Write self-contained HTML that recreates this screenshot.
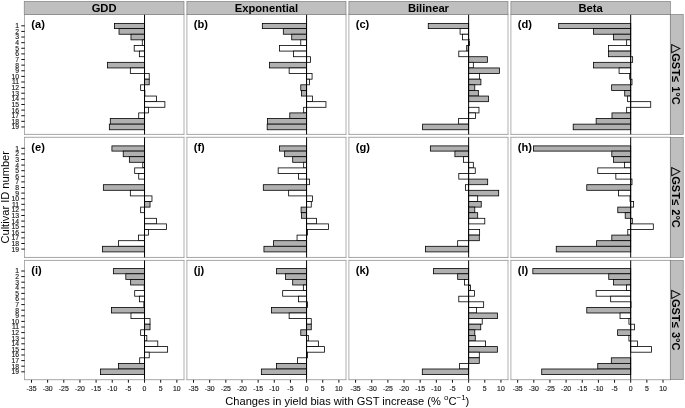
<!DOCTYPE html>
<html lang="en"><head><meta charset="utf-8"><title>Changes in yield bias with GST increase</title>
<style>html,body{margin:0;padding:0;background:#fff}svg{display:block}text{font-family:"Liberation Sans","DejaVu Sans",sans-serif;fill:#000}.h{font-weight:bold;font-size:11.2px;text-anchor:middle}.l{font-weight:bold;font-size:11.1px}.t{font-size:6.9px;fill:#1a1a1a;stroke:#1a1a1a;stroke-width:0.15px}.yt{text-anchor:end;font-size:6.8px}.xt{text-anchor:middle}.ax{font-size:11.1px;text-anchor:middle}.s{font-weight:bold;font-size:11px;text-anchor:middle;word-spacing:1.3px}.tri{font-weight:bold;font-size:12px;font-family:"DejaVu Sans",sans-serif;stroke:#000;stroke-width:0.25px}</style></head><body>
<svg width="685" height="408" viewBox="0 0 685 408">
<rect width="685" height="408" fill="#fff"/>
<g>
<rect x="24.5" y="14.3" width="159.5" height="120.1" fill="#fff"/>
<path d="M24.5 14.3V134.4M184 14.3V134.4" stroke="#b0b0b0" stroke-width="1" fill="none"/>
<path d="M24 14.3H184.5M24 134.4H184.5" stroke="#808080" stroke-width="0.7" fill="none"/>
<rect x="114.5" y="23.39" width="30.04" height="5.22" fill="#b0b0b0" stroke="#000" stroke-width="0.8"/>
<rect x="119.02" y="28.61" width="25.52" height="5.62" fill="#b0b0b0" stroke="#000" stroke-width="0.8"/>
<rect x="130.97" y="34.23" width="13.57" height="5.62" fill="#b0b0b0" stroke="#000" stroke-width="0.8"/>
<rect x="142.28" y="39.85" width="2.26" height="5.62" fill="#fff" stroke="#000" stroke-width="0.8"/>
<rect x="134.2" y="45.47" width="10.34" height="5.62" fill="#fff" stroke="#000" stroke-width="0.8"/>
<rect x="139.37" y="51.09" width="5.17" height="5.62" fill="#fff" stroke="#000" stroke-width="0.8"/>
<rect x="107.39" y="62.33" width="37.15" height="5.62" fill="#b0b0b0" stroke="#000" stroke-width="0.8"/>
<rect x="130.33" y="67.95" width="14.21" height="5.62" fill="#fff" stroke="#000" stroke-width="0.8"/>
<rect x="144.54" y="73.57" width="4.68" height="5.62" fill="#fff" stroke="#000" stroke-width="0.8"/>
<rect x="144.54" y="79.19" width="4.68" height="5.62" fill="#b0b0b0" stroke="#000" stroke-width="0.8"/>
<rect x="140.66" y="84.81" width="3.88" height="5.62" fill="#fff" stroke="#000" stroke-width="0.8"/>
<rect x="144.54" y="90.43" width="0.32" height="5.62" fill="#fff" stroke="#000" stroke-width="0.8"/>
<rect x="144.54" y="96.05" width="11.95" height="5.62" fill="#fff" stroke="#000" stroke-width="0.8"/>
<rect x="144.54" y="101.67" width="20.35" height="5.62" fill="#fff" stroke="#000" stroke-width="0.8"/>
<rect x="144.54" y="107.29" width="3.88" height="5.62" fill="#fff" stroke="#000" stroke-width="0.8"/>
<rect x="138.73" y="112.91" width="5.81" height="5.62" fill="#fff" stroke="#000" stroke-width="0.8"/>
<rect x="110.3" y="118.53" width="34.24" height="5.62" fill="#b0b0b0" stroke="#000" stroke-width="0.8"/>
<rect x="109.33" y="124.15" width="35.21" height="5.62" fill="#b0b0b0" stroke="#000" stroke-width="0.8"/>
<line x1="144.54" x2="144.54" y1="14.3" y2="134.4" stroke="#000" stroke-width="1.0"/>
<text class="l" x="31.3" y="28.3">(a)</text>
</g>
<g>
<rect x="186.9" y="14.3" width="159.1" height="120.1" fill="#fff"/>
<path d="M186.9 14.3V134.4M346 14.3V134.4" stroke="#b0b0b0" stroke-width="1" fill="none"/>
<path d="M186.4 14.3H346.5M186.4 134.4H346.5" stroke="#808080" stroke-width="0.7" fill="none"/>
<rect x="262.33" y="23.39" width="44.25" height="5.22" fill="#b0b0b0" stroke="#000" stroke-width="0.8"/>
<rect x="283.32" y="28.61" width="23.26" height="5.62" fill="#b0b0b0" stroke="#000" stroke-width="0.8"/>
<rect x="291.72" y="34.23" width="14.86" height="5.62" fill="#b0b0b0" stroke="#000" stroke-width="0.8"/>
<rect x="300.77" y="39.85" width="5.81" height="5.62" fill="#fff" stroke="#000" stroke-width="0.8"/>
<rect x="279.45" y="45.47" width="27.13" height="5.62" fill="#fff" stroke="#000" stroke-width="0.8"/>
<rect x="293.5" y="51.09" width="13.08" height="5.62" fill="#fff" stroke="#000" stroke-width="0.8"/>
<rect x="306.58" y="56.71" width="3.88" height="5.62" fill="#fff" stroke="#000" stroke-width="0.8"/>
<rect x="269.44" y="62.33" width="37.15" height="5.62" fill="#b0b0b0" stroke="#000" stroke-width="0.8"/>
<rect x="289.14" y="67.95" width="17.44" height="5.62" fill="#fff" stroke="#000" stroke-width="0.8"/>
<rect x="306.58" y="73.57" width="5.49" height="5.62" fill="#fff" stroke="#000" stroke-width="0.8"/>
<rect x="306.58" y="79.19" width="2.91" height="5.62" fill="#fff" stroke="#000" stroke-width="0.8"/>
<rect x="300.77" y="84.81" width="5.81" height="5.62" fill="#b0b0b0" stroke="#000" stroke-width="0.8"/>
<rect x="301.41" y="90.43" width="5.17" height="5.62" fill="#b0b0b0" stroke="#000" stroke-width="0.8"/>
<rect x="306.58" y="96.05" width="5.81" height="5.62" fill="#fff" stroke="#000" stroke-width="0.8"/>
<rect x="306.58" y="101.67" width="19.38" height="5.62" fill="#fff" stroke="#000" stroke-width="0.8"/>
<rect x="303.67" y="107.29" width="2.91" height="5.62" fill="#fff" stroke="#000" stroke-width="0.8"/>
<rect x="289.78" y="112.91" width="16.8" height="5.62" fill="#b0b0b0" stroke="#000" stroke-width="0.8"/>
<rect x="267.5" y="118.53" width="39.08" height="5.62" fill="#b0b0b0" stroke="#000" stroke-width="0.8"/>
<rect x="267.17" y="124.15" width="39.41" height="5.62" fill="#b0b0b0" stroke="#000" stroke-width="0.8"/>
<line x1="306.58" x2="306.58" y1="14.3" y2="134.4" stroke="#000" stroke-width="1.0"/>
<text class="l" x="193.7" y="28.3">(b)</text>
</g>
<g>
<rect x="348.9" y="14.3" width="159.1" height="120.1" fill="#fff"/>
<path d="M348.9 14.3V134.4M508 14.3V134.4" stroke="#b0b0b0" stroke-width="1" fill="none"/>
<path d="M348.4 14.3H508.5M348.4 134.4H508.5" stroke="#808080" stroke-width="0.7" fill="none"/>
<rect x="428.26" y="23.39" width="40.38" height="5.22" fill="#b0b0b0" stroke="#000" stroke-width="0.8"/>
<rect x="460.08" y="28.61" width="8.56" height="5.62" fill="#fff" stroke="#000" stroke-width="0.8"/>
<rect x="462.5" y="34.23" width="6.14" height="5.62" fill="#fff" stroke="#000" stroke-width="0.8"/>
<rect x="468.64" y="39.85" width="0.97" height="5.62" fill="#fff" stroke="#000" stroke-width="0.8"/>
<rect x="466.7" y="45.47" width="1.94" height="5.62" fill="#b0b0b0" stroke="#000" stroke-width="0.8"/>
<rect x="458.79" y="51.09" width="9.85" height="5.62" fill="#fff" stroke="#000" stroke-width="0.8"/>
<rect x="468.64" y="56.71" width="18.73" height="5.62" fill="#b0b0b0" stroke="#000" stroke-width="0.8"/>
<rect x="468.64" y="62.33" width="4.68" height="5.62" fill="#fff" stroke="#000" stroke-width="0.8"/>
<rect x="468.64" y="67.95" width="30.85" height="5.62" fill="#b0b0b0" stroke="#000" stroke-width="0.8"/>
<rect x="468.64" y="73.57" width="10.98" height="5.62" fill="#fff" stroke="#000" stroke-width="0.8"/>
<rect x="468.64" y="79.19" width="12.27" height="5.62" fill="#b0b0b0" stroke="#000" stroke-width="0.8"/>
<rect x="468.64" y="84.81" width="6.14" height="5.62" fill="#b0b0b0" stroke="#000" stroke-width="0.8"/>
<rect x="468.64" y="90.43" width="9.69" height="5.62" fill="#b0b0b0" stroke="#000" stroke-width="0.8"/>
<rect x="468.64" y="96.05" width="19.86" height="5.62" fill="#b0b0b0" stroke="#000" stroke-width="0.8"/>
<rect x="468.64" y="107.29" width="10.34" height="5.62" fill="#fff" stroke="#000" stroke-width="0.8"/>
<rect x="468.64" y="112.91" width="6.78" height="5.62" fill="#fff" stroke="#000" stroke-width="0.8"/>
<rect x="458.63" y="118.53" width="10.01" height="5.62" fill="#fff" stroke="#000" stroke-width="0.8"/>
<rect x="422.61" y="124.15" width="46.03" height="5.62" fill="#b0b0b0" stroke="#000" stroke-width="0.8"/>
<line x1="468.64" x2="468.64" y1="14.3" y2="134.4" stroke="#000" stroke-width="1.0"/>
<text class="l" x="355.7" y="28.3">(c)</text>
</g>
<g>
<rect x="510.9" y="14.3" width="159.5" height="120.1" fill="#fff"/>
<path d="M510.9 14.3V134.4M670.4 14.3V134.4" stroke="#b0b0b0" stroke-width="1" fill="none"/>
<path d="M510.4 14.3H670.9M510.4 134.4H670.9" stroke="#808080" stroke-width="0.7" fill="none"/>
<rect x="558.67" y="23.39" width="72.03" height="5.22" fill="#b0b0b0" stroke="#000" stroke-width="0.8"/>
<rect x="593.56" y="28.61" width="37.15" height="5.62" fill="#b0b0b0" stroke="#000" stroke-width="0.8"/>
<rect x="613.58" y="34.23" width="17.12" height="5.62" fill="#b0b0b0" stroke="#000" stroke-width="0.8"/>
<rect x="626.66" y="39.85" width="4.04" height="5.62" fill="#fff" stroke="#000" stroke-width="0.8"/>
<rect x="608.41" y="45.47" width="22.29" height="5.62" fill="#fff" stroke="#000" stroke-width="0.8"/>
<rect x="608.41" y="51.09" width="22.29" height="5.62" fill="#b0b0b0" stroke="#000" stroke-width="0.8"/>
<rect x="630.7" y="56.71" width="1.94" height="5.62" fill="#fff" stroke="#000" stroke-width="0.8"/>
<rect x="593.56" y="62.33" width="37.15" height="5.62" fill="#b0b0b0" stroke="#000" stroke-width="0.8"/>
<rect x="619.07" y="67.95" width="11.63" height="5.62" fill="#fff" stroke="#000" stroke-width="0.8"/>
<rect x="629.73" y="73.57" width="0.97" height="5.62" fill="#fff" stroke="#000" stroke-width="0.8"/>
<rect x="630.7" y="79.19" width="1.29" height="5.62" fill="#fff" stroke="#000" stroke-width="0.8"/>
<rect x="611.64" y="84.81" width="19.06" height="5.62" fill="#b0b0b0" stroke="#000" stroke-width="0.8"/>
<rect x="624.72" y="90.43" width="5.98" height="5.62" fill="#b0b0b0" stroke="#000" stroke-width="0.8"/>
<rect x="627.63" y="96.05" width="3.07" height="5.62" fill="#fff" stroke="#000" stroke-width="0.8"/>
<rect x="630.7" y="101.67" width="20.03" height="5.62" fill="#fff" stroke="#000" stroke-width="0.8"/>
<rect x="626.66" y="107.29" width="4.04" height="5.62" fill="#fff" stroke="#000" stroke-width="0.8"/>
<rect x="611.97" y="112.91" width="18.73" height="5.62" fill="#b0b0b0" stroke="#000" stroke-width="0.8"/>
<rect x="596.14" y="118.53" width="34.56" height="5.62" fill="#b0b0b0" stroke="#000" stroke-width="0.8"/>
<rect x="573.21" y="124.15" width="57.49" height="5.62" fill="#b0b0b0" stroke="#000" stroke-width="0.8"/>
<line x1="630.7" x2="630.7" y1="14.3" y2="134.4" stroke="#000" stroke-width="1.0"/>
<text class="l" x="517.7" y="28.3">(d)</text>
</g>
<line x1="21.3" x2="24.7" y1="25.8" y2="25.8" stroke="#111" stroke-width="1"/>
<text class="t yt" x="19.1" y="28.2">1</text>
<line x1="21.3" x2="24.7" y1="31.42" y2="31.42" stroke="#111" stroke-width="1"/>
<text class="t yt" x="19.1" y="33.82">2</text>
<line x1="21.3" x2="24.7" y1="37.04" y2="37.04" stroke="#111" stroke-width="1"/>
<text class="t yt" x="19.1" y="39.44">3</text>
<line x1="21.3" x2="24.7" y1="42.66" y2="42.66" stroke="#111" stroke-width="1"/>
<text class="t yt" x="19.1" y="45.06">4</text>
<line x1="21.3" x2="24.7" y1="48.28" y2="48.28" stroke="#111" stroke-width="1"/>
<text class="t yt" x="19.1" y="50.68">5</text>
<line x1="21.3" x2="24.7" y1="53.9" y2="53.9" stroke="#111" stroke-width="1"/>
<text class="t yt" x="19.1" y="56.3">6</text>
<line x1="21.3" x2="24.7" y1="59.52" y2="59.52" stroke="#111" stroke-width="1"/>
<text class="t yt" x="19.1" y="61.92">7</text>
<line x1="21.3" x2="24.7" y1="65.14" y2="65.14" stroke="#111" stroke-width="1"/>
<text class="t yt" x="19.1" y="67.54">8</text>
<line x1="21.3" x2="24.7" y1="70.76" y2="70.76" stroke="#111" stroke-width="1"/>
<text class="t yt" x="19.1" y="73.16">9</text>
<line x1="21.3" x2="24.7" y1="76.38" y2="76.38" stroke="#111" stroke-width="1"/>
<text class="t yt" x="19.1" y="78.78">10</text>
<line x1="21.3" x2="24.7" y1="82" y2="82" stroke="#111" stroke-width="1"/>
<text class="t yt" x="19.1" y="84.4">11</text>
<line x1="21.3" x2="24.7" y1="87.62" y2="87.62" stroke="#111" stroke-width="1"/>
<text class="t yt" x="19.1" y="90.02">12</text>
<line x1="21.3" x2="24.7" y1="93.24" y2="93.24" stroke="#111" stroke-width="1"/>
<text class="t yt" x="19.1" y="95.64">13</text>
<line x1="21.3" x2="24.7" y1="98.86" y2="98.86" stroke="#111" stroke-width="1"/>
<text class="t yt" x="19.1" y="101.26">14</text>
<line x1="21.3" x2="24.7" y1="104.48" y2="104.48" stroke="#111" stroke-width="1"/>
<text class="t yt" x="19.1" y="106.88">15</text>
<line x1="21.3" x2="24.7" y1="110.1" y2="110.1" stroke="#111" stroke-width="1"/>
<text class="t yt" x="19.1" y="112.5">16</text>
<line x1="21.3" x2="24.7" y1="115.72" y2="115.72" stroke="#111" stroke-width="1"/>
<text class="t yt" x="19.1" y="118.12">17</text>
<line x1="21.3" x2="24.7" y1="121.34" y2="121.34" stroke="#111" stroke-width="1"/>
<text class="t yt" x="19.1" y="123.74">18</text>
<line x1="21.3" x2="24.7" y1="126.96" y2="126.96" stroke="#111" stroke-width="1"/>
<text class="t yt" x="19.1" y="129.36">19</text>
<g>
<rect x="24.5" y="137.3" width="159.5" height="120.15" fill="#fff"/>
<path d="M24.5 137.3V257.45M184 137.3V257.45" stroke="#b0b0b0" stroke-width="1" fill="none"/>
<path d="M24 137.3H184.5M24 257.45H184.5" stroke="#808080" stroke-width="0.7" fill="none"/>
<rect x="111.92" y="145.9" width="32.62" height="5.2" fill="#b0b0b0" stroke="#000" stroke-width="0.8"/>
<rect x="123.22" y="151.1" width="21.32" height="5.6" fill="#b0b0b0" stroke="#000" stroke-width="0.8"/>
<rect x="129.36" y="156.7" width="15.18" height="5.6" fill="#b0b0b0" stroke="#000" stroke-width="0.8"/>
<rect x="142.76" y="162.3" width="1.78" height="5.6" fill="#fff" stroke="#000" stroke-width="0.8"/>
<rect x="134.69" y="167.9" width="9.85" height="5.6" fill="#fff" stroke="#000" stroke-width="0.8"/>
<rect x="138.73" y="173.5" width="5.81" height="5.6" fill="#fff" stroke="#000" stroke-width="0.8"/>
<rect x="103.36" y="184.7" width="41.18" height="5.6" fill="#b0b0b0" stroke="#000" stroke-width="0.8"/>
<rect x="130.33" y="190.3" width="14.21" height="5.6" fill="#fff" stroke="#000" stroke-width="0.8"/>
<rect x="144.54" y="195.9" width="7.43" height="5.6" fill="#fff" stroke="#000" stroke-width="0.8"/>
<rect x="144.54" y="201.5" width="5.49" height="5.6" fill="#b0b0b0" stroke="#000" stroke-width="0.8"/>
<rect x="140.66" y="207.1" width="3.88" height="5.6" fill="#fff" stroke="#000" stroke-width="0.8"/>
<rect x="144.54" y="218.3" width="11.95" height="5.6" fill="#fff" stroke="#000" stroke-width="0.8"/>
<rect x="144.54" y="223.9" width="21.96" height="5.6" fill="#fff" stroke="#000" stroke-width="0.8"/>
<rect x="144.54" y="229.5" width="3.88" height="5.6" fill="#fff" stroke="#000" stroke-width="0.8"/>
<rect x="138.4" y="235.1" width="6.14" height="5.6" fill="#fff" stroke="#000" stroke-width="0.8"/>
<rect x="118.54" y="240.7" width="26" height="5.6" fill="#fff" stroke="#000" stroke-width="0.8"/>
<rect x="102.55" y="246.3" width="41.99" height="5.6" fill="#b0b0b0" stroke="#000" stroke-width="0.8"/>
<line x1="144.54" x2="144.54" y1="137.3" y2="257.45" stroke="#000" stroke-width="1.0"/>
<text class="l" x="31.3" y="151.3">(e)</text>
</g>
<g>
<rect x="186.9" y="137.3" width="159.1" height="120.15" fill="#fff"/>
<path d="M186.9 137.3V257.45M346 137.3V257.45" stroke="#b0b0b0" stroke-width="1" fill="none"/>
<path d="M186.4 137.3H346.5M186.4 257.45H346.5" stroke="#808080" stroke-width="0.7" fill="none"/>
<rect x="279.45" y="145.9" width="27.13" height="5.2" fill="#b0b0b0" stroke="#000" stroke-width="0.8"/>
<rect x="284.62" y="151.1" width="21.96" height="5.6" fill="#b0b0b0" stroke="#000" stroke-width="0.8"/>
<rect x="292.69" y="156.7" width="13.89" height="5.6" fill="#b0b0b0" stroke="#000" stroke-width="0.8"/>
<rect x="303.67" y="162.3" width="2.91" height="5.6" fill="#fff" stroke="#000" stroke-width="0.8"/>
<rect x="278.16" y="167.9" width="28.42" height="5.6" fill="#fff" stroke="#000" stroke-width="0.8"/>
<rect x="298.5" y="173.5" width="8.07" height="5.6" fill="#fff" stroke="#000" stroke-width="0.8"/>
<rect x="306.58" y="179.1" width="2.91" height="5.6" fill="#fff" stroke="#000" stroke-width="0.8"/>
<rect x="263.3" y="184.7" width="43.28" height="5.6" fill="#b0b0b0" stroke="#000" stroke-width="0.8"/>
<rect x="288.65" y="190.3" width="17.93" height="5.6" fill="#fff" stroke="#000" stroke-width="0.8"/>
<rect x="306.58" y="195.9" width="5.81" height="5.6" fill="#fff" stroke="#000" stroke-width="0.8"/>
<rect x="306.58" y="201.5" width="4.68" height="5.6" fill="#fff" stroke="#000" stroke-width="0.8"/>
<rect x="301.09" y="207.1" width="5.49" height="5.6" fill="#b0b0b0" stroke="#000" stroke-width="0.8"/>
<rect x="301.41" y="212.7" width="5.17" height="5.6" fill="#b0b0b0" stroke="#000" stroke-width="0.8"/>
<rect x="306.58" y="218.3" width="9.85" height="5.6" fill="#fff" stroke="#000" stroke-width="0.8"/>
<rect x="306.58" y="223.9" width="21.96" height="5.6" fill="#fff" stroke="#000" stroke-width="0.8"/>
<rect x="306.58" y="229.5" width="0.97" height="5.6" fill="#fff" stroke="#000" stroke-width="0.8"/>
<rect x="297.05" y="235.1" width="9.53" height="5.6" fill="#fff" stroke="#000" stroke-width="0.8"/>
<rect x="273.47" y="240.7" width="33.11" height="5.6" fill="#b0b0b0" stroke="#000" stroke-width="0.8"/>
<rect x="263.94" y="246.3" width="42.64" height="5.6" fill="#b0b0b0" stroke="#000" stroke-width="0.8"/>
<line x1="306.58" x2="306.58" y1="137.3" y2="257.45" stroke="#000" stroke-width="1.0"/>
<text class="l" x="193.7" y="151.3">(f)</text>
</g>
<g>
<rect x="348.9" y="137.3" width="159.1" height="120.15" fill="#fff"/>
<path d="M348.9 137.3V257.45M508 137.3V257.45" stroke="#b0b0b0" stroke-width="1" fill="none"/>
<path d="M348.4 137.3H508.5M348.4 257.45H508.5" stroke="#808080" stroke-width="0.7" fill="none"/>
<rect x="430.36" y="145.9" width="38.28" height="5.2" fill="#b0b0b0" stroke="#000" stroke-width="0.8"/>
<rect x="454.91" y="151.1" width="13.73" height="5.6" fill="#b0b0b0" stroke="#000" stroke-width="0.8"/>
<rect x="463.47" y="156.7" width="5.17" height="5.6" fill="#fff" stroke="#000" stroke-width="0.8"/>
<rect x="468.64" y="162.3" width="4.68" height="5.6" fill="#fff" stroke="#000" stroke-width="0.8"/>
<rect x="468.64" y="167.9" width="6.62" height="5.6" fill="#fff" stroke="#000" stroke-width="0.8"/>
<rect x="458.79" y="173.5" width="9.85" height="5.6" fill="#fff" stroke="#000" stroke-width="0.8"/>
<rect x="468.64" y="179.1" width="19.06" height="5.6" fill="#b0b0b0" stroke="#000" stroke-width="0.8"/>
<rect x="465.41" y="184.7" width="3.23" height="5.6" fill="#fff" stroke="#000" stroke-width="0.8"/>
<rect x="468.64" y="190.3" width="30.04" height="5.6" fill="#b0b0b0" stroke="#000" stroke-width="0.8"/>
<rect x="468.64" y="195.9" width="9.04" height="5.6" fill="#fff" stroke="#000" stroke-width="0.8"/>
<rect x="468.64" y="201.5" width="12.6" height="5.6" fill="#b0b0b0" stroke="#000" stroke-width="0.8"/>
<rect x="468.64" y="207.1" width="6.14" height="5.6" fill="#b0b0b0" stroke="#000" stroke-width="0.8"/>
<rect x="468.64" y="212.7" width="9.04" height="5.6" fill="#b0b0b0" stroke="#000" stroke-width="0.8"/>
<rect x="468.64" y="218.3" width="16.15" height="5.6" fill="#fff" stroke="#000" stroke-width="0.8"/>
<rect x="468.64" y="229.5" width="10.98" height="5.6" fill="#fff" stroke="#000" stroke-width="0.8"/>
<rect x="468.64" y="235.1" width="10.66" height="5.6" fill="#b0b0b0" stroke="#000" stroke-width="0.8"/>
<rect x="457.66" y="240.7" width="10.98" height="5.6" fill="#fff" stroke="#000" stroke-width="0.8"/>
<rect x="425.52" y="246.3" width="43.12" height="5.6" fill="#b0b0b0" stroke="#000" stroke-width="0.8"/>
<line x1="468.64" x2="468.64" y1="137.3" y2="257.45" stroke="#000" stroke-width="1.0"/>
<text class="l" x="355.7" y="151.3">(g)</text>
</g>
<g>
<rect x="510.9" y="137.3" width="159.5" height="120.15" fill="#fff"/>
<path d="M510.9 137.3V257.45M670.4 137.3V257.45" stroke="#b0b0b0" stroke-width="1" fill="none"/>
<path d="M510.4 137.3H670.9M510.4 257.45H670.9" stroke="#808080" stroke-width="0.7" fill="none"/>
<rect x="533.48" y="145.9" width="97.22" height="5.2" fill="#b0b0b0" stroke="#000" stroke-width="0.8"/>
<rect x="611.8" y="151.1" width="18.9" height="5.6" fill="#b0b0b0" stroke="#000" stroke-width="0.8"/>
<rect x="613.58" y="156.7" width="17.12" height="5.6" fill="#b0b0b0" stroke="#000" stroke-width="0.8"/>
<rect x="624.56" y="162.3" width="6.14" height="5.6" fill="#fff" stroke="#000" stroke-width="0.8"/>
<rect x="597.75" y="167.9" width="32.95" height="5.6" fill="#fff" stroke="#000" stroke-width="0.8"/>
<rect x="615.84" y="173.5" width="14.86" height="5.6" fill="#fff" stroke="#000" stroke-width="0.8"/>
<rect x="630.7" y="179.1" width="1.29" height="5.6" fill="#fff" stroke="#000" stroke-width="0.8"/>
<rect x="586.77" y="184.7" width="43.93" height="5.6" fill="#b0b0b0" stroke="#000" stroke-width="0.8"/>
<rect x="618.43" y="190.3" width="12.27" height="5.6" fill="#fff" stroke="#000" stroke-width="0.8"/>
<rect x="630.05" y="195.9" width="0.65" height="5.6" fill="#fff" stroke="#000" stroke-width="0.8"/>
<rect x="630.7" y="201.5" width="2.91" height="5.6" fill="#fff" stroke="#000" stroke-width="0.8"/>
<rect x="617.78" y="207.1" width="12.92" height="5.6" fill="#b0b0b0" stroke="#000" stroke-width="0.8"/>
<rect x="625.21" y="212.7" width="5.49" height="5.6" fill="#b0b0b0" stroke="#000" stroke-width="0.8"/>
<rect x="630.7" y="218.3" width="1.61" height="5.6" fill="#fff" stroke="#000" stroke-width="0.8"/>
<rect x="630.7" y="223.9" width="22.61" height="5.6" fill="#fff" stroke="#000" stroke-width="0.8"/>
<rect x="627.79" y="229.5" width="2.91" height="5.6" fill="#fff" stroke="#000" stroke-width="0.8"/>
<rect x="611.8" y="235.1" width="18.9" height="5.6" fill="#b0b0b0" stroke="#000" stroke-width="0.8"/>
<rect x="596.62" y="240.7" width="34.08" height="5.6" fill="#b0b0b0" stroke="#000" stroke-width="0.8"/>
<rect x="556.25" y="246.3" width="74.45" height="5.6" fill="#b0b0b0" stroke="#000" stroke-width="0.8"/>
<line x1="630.7" x2="630.7" y1="137.3" y2="257.45" stroke="#000" stroke-width="1.0"/>
<text class="l" x="517.7" y="151.3">(h)</text>
</g>
<line x1="21.3" x2="24.7" y1="148.3" y2="148.3" stroke="#111" stroke-width="1"/>
<text class="t yt" x="19.1" y="150.7">1</text>
<line x1="21.3" x2="24.7" y1="153.9" y2="153.9" stroke="#111" stroke-width="1"/>
<text class="t yt" x="19.1" y="156.3">2</text>
<line x1="21.3" x2="24.7" y1="159.5" y2="159.5" stroke="#111" stroke-width="1"/>
<text class="t yt" x="19.1" y="161.9">3</text>
<line x1="21.3" x2="24.7" y1="165.1" y2="165.1" stroke="#111" stroke-width="1"/>
<text class="t yt" x="19.1" y="167.5">4</text>
<line x1="21.3" x2="24.7" y1="170.7" y2="170.7" stroke="#111" stroke-width="1"/>
<text class="t yt" x="19.1" y="173.1">5</text>
<line x1="21.3" x2="24.7" y1="176.3" y2="176.3" stroke="#111" stroke-width="1"/>
<text class="t yt" x="19.1" y="178.7">6</text>
<line x1="21.3" x2="24.7" y1="181.9" y2="181.9" stroke="#111" stroke-width="1"/>
<text class="t yt" x="19.1" y="184.3">7</text>
<line x1="21.3" x2="24.7" y1="187.5" y2="187.5" stroke="#111" stroke-width="1"/>
<text class="t yt" x="19.1" y="189.9">8</text>
<line x1="21.3" x2="24.7" y1="193.1" y2="193.1" stroke="#111" stroke-width="1"/>
<text class="t yt" x="19.1" y="195.5">9</text>
<line x1="21.3" x2="24.7" y1="198.7" y2="198.7" stroke="#111" stroke-width="1"/>
<text class="t yt" x="19.1" y="201.1">10</text>
<line x1="21.3" x2="24.7" y1="204.3" y2="204.3" stroke="#111" stroke-width="1"/>
<text class="t yt" x="19.1" y="206.7">11</text>
<line x1="21.3" x2="24.7" y1="209.9" y2="209.9" stroke="#111" stroke-width="1"/>
<text class="t yt" x="19.1" y="212.3">12</text>
<line x1="21.3" x2="24.7" y1="215.5" y2="215.5" stroke="#111" stroke-width="1"/>
<text class="t yt" x="19.1" y="217.9">13</text>
<line x1="21.3" x2="24.7" y1="221.1" y2="221.1" stroke="#111" stroke-width="1"/>
<text class="t yt" x="19.1" y="223.5">14</text>
<line x1="21.3" x2="24.7" y1="226.7" y2="226.7" stroke="#111" stroke-width="1"/>
<text class="t yt" x="19.1" y="229.1">15</text>
<line x1="21.3" x2="24.7" y1="232.3" y2="232.3" stroke="#111" stroke-width="1"/>
<text class="t yt" x="19.1" y="234.7">16</text>
<line x1="21.3" x2="24.7" y1="237.9" y2="237.9" stroke="#111" stroke-width="1"/>
<text class="t yt" x="19.1" y="240.3">17</text>
<line x1="21.3" x2="24.7" y1="243.5" y2="243.5" stroke="#111" stroke-width="1"/>
<text class="t yt" x="19.1" y="245.9">18</text>
<line x1="21.3" x2="24.7" y1="249.1" y2="249.1" stroke="#111" stroke-width="1"/>
<text class="t yt" x="19.1" y="251.5">19</text>
<g>
<rect x="24.5" y="260.4" width="159.5" height="119.3" fill="#fff"/>
<path d="M24.5 260.4V379.7M184 260.4V379.7" stroke="#b0b0b0" stroke-width="1" fill="none"/>
<path d="M24 260.4H184.5M24 379.7H184.5" stroke="#808080" stroke-width="0.7" fill="none"/>
<rect x="113.37" y="268.6" width="31.17" height="5.2" fill="#b0b0b0" stroke="#000" stroke-width="0.8"/>
<rect x="125.81" y="273.8" width="18.73" height="5.6" fill="#b0b0b0" stroke="#000" stroke-width="0.8"/>
<rect x="130.65" y="279.4" width="13.89" height="5.6" fill="#b0b0b0" stroke="#000" stroke-width="0.8"/>
<rect x="144.22" y="285" width="0.32" height="5.6" fill="#fff" stroke="#000" stroke-width="0.8"/>
<rect x="134.69" y="290.6" width="9.85" height="5.6" fill="#fff" stroke="#000" stroke-width="0.8"/>
<rect x="139.37" y="296.2" width="5.17" height="5.6" fill="#fff" stroke="#000" stroke-width="0.8"/>
<rect x="143.89" y="301.8" width="0.65" height="5.6" fill="#fff" stroke="#000" stroke-width="0.8"/>
<rect x="111.43" y="307.4" width="33.11" height="5.6" fill="#b0b0b0" stroke="#000" stroke-width="0.8"/>
<rect x="130.97" y="313" width="13.57" height="5.6" fill="#fff" stroke="#000" stroke-width="0.8"/>
<rect x="144.54" y="318.6" width="5.49" height="5.6" fill="#fff" stroke="#000" stroke-width="0.8"/>
<rect x="144.54" y="324.2" width="5.49" height="5.6" fill="#b0b0b0" stroke="#000" stroke-width="0.8"/>
<rect x="140.66" y="329.8" width="3.88" height="5.6" fill="#fff" stroke="#000" stroke-width="0.8"/>
<rect x="144.54" y="335.4" width="2.26" height="5.6" fill="#fff" stroke="#000" stroke-width="0.8"/>
<rect x="144.54" y="341" width="13.24" height="5.6" fill="#fff" stroke="#000" stroke-width="0.8"/>
<rect x="144.54" y="346.6" width="23.09" height="5.6" fill="#fff" stroke="#000" stroke-width="0.8"/>
<rect x="144.54" y="352.2" width="4.68" height="5.6" fill="#fff" stroke="#000" stroke-width="0.8"/>
<rect x="139.69" y="357.8" width="4.84" height="5.6" fill="#fff" stroke="#000" stroke-width="0.8"/>
<rect x="118.54" y="363.4" width="26" height="5.6" fill="#b0b0b0" stroke="#000" stroke-width="0.8"/>
<rect x="100.45" y="369" width="44.09" height="5.6" fill="#b0b0b0" stroke="#000" stroke-width="0.8"/>
<line x1="144.54" x2="144.54" y1="260.4" y2="379.7" stroke="#000" stroke-width="1.0"/>
<text class="l" x="31.3" y="274.4">(i)</text>
</g>
<g>
<rect x="186.9" y="260.4" width="159.1" height="119.3" fill="#fff"/>
<path d="M186.9 260.4V379.7M346 260.4V379.7" stroke="#b0b0b0" stroke-width="1" fill="none"/>
<path d="M186.4 260.4H346.5M186.4 379.7H346.5" stroke="#808080" stroke-width="0.7" fill="none"/>
<rect x="276.54" y="268.6" width="30.04" height="5.2" fill="#b0b0b0" stroke="#000" stroke-width="0.8"/>
<rect x="285.58" y="273.8" width="21" height="5.6" fill="#b0b0b0" stroke="#000" stroke-width="0.8"/>
<rect x="292.69" y="279.4" width="13.89" height="5.6" fill="#b0b0b0" stroke="#000" stroke-width="0.8"/>
<rect x="303.35" y="285" width="3.23" height="5.6" fill="#fff" stroke="#000" stroke-width="0.8"/>
<rect x="282.68" y="290.6" width="23.9" height="5.6" fill="#fff" stroke="#000" stroke-width="0.8"/>
<rect x="298.5" y="296.2" width="8.07" height="5.6" fill="#fff" stroke="#000" stroke-width="0.8"/>
<rect x="306.58" y="301.8" width="0.97" height="5.6" fill="#fff" stroke="#000" stroke-width="0.8"/>
<rect x="271.53" y="307.4" width="35.05" height="5.6" fill="#b0b0b0" stroke="#000" stroke-width="0.8"/>
<rect x="289.14" y="313" width="17.44" height="5.6" fill="#fff" stroke="#000" stroke-width="0.8"/>
<rect x="306.58" y="318.6" width="4.68" height="5.6" fill="#fff" stroke="#000" stroke-width="0.8"/>
<rect x="306.58" y="324.2" width="4.68" height="5.6" fill="#b0b0b0" stroke="#000" stroke-width="0.8"/>
<rect x="300.77" y="329.8" width="5.81" height="5.6" fill="#b0b0b0" stroke="#000" stroke-width="0.8"/>
<rect x="306.58" y="335.4" width="1.78" height="5.6" fill="#fff" stroke="#000" stroke-width="0.8"/>
<rect x="306.58" y="341" width="11.79" height="5.6" fill="#fff" stroke="#000" stroke-width="0.8"/>
<rect x="306.58" y="346.6" width="17.93" height="5.6" fill="#fff" stroke="#000" stroke-width="0.8"/>
<rect x="306.58" y="352.2" width="0.97" height="5.6" fill="#fff" stroke="#000" stroke-width="0.8"/>
<rect x="297.54" y="357.8" width="9.04" height="5.6" fill="#fff" stroke="#000" stroke-width="0.8"/>
<rect x="276.54" y="363.4" width="30.04" height="5.6" fill="#b0b0b0" stroke="#000" stroke-width="0.8"/>
<rect x="261.36" y="369" width="45.22" height="5.6" fill="#b0b0b0" stroke="#000" stroke-width="0.8"/>
<line x1="306.58" x2="306.58" y1="260.4" y2="379.7" stroke="#000" stroke-width="1.0"/>
<text class="l" x="193.7" y="274.4">(j)</text>
</g>
<g>
<rect x="348.9" y="260.4" width="159.1" height="119.3" fill="#fff"/>
<path d="M348.9 260.4V379.7M508 260.4V379.7" stroke="#b0b0b0" stroke-width="1" fill="none"/>
<path d="M348.4 260.4H508.5M348.4 379.7H508.5" stroke="#808080" stroke-width="0.7" fill="none"/>
<rect x="433.43" y="268.6" width="35.21" height="5.2" fill="#b0b0b0" stroke="#000" stroke-width="0.8"/>
<rect x="457.66" y="273.8" width="10.98" height="5.6" fill="#b0b0b0" stroke="#000" stroke-width="0.8"/>
<rect x="464.44" y="279.4" width="4.2" height="5.6" fill="#fff" stroke="#000" stroke-width="0.8"/>
<rect x="468.64" y="285" width="1.78" height="5.6" fill="#fff" stroke="#000" stroke-width="0.8"/>
<rect x="468.64" y="290.6" width="5.81" height="5.6" fill="#fff" stroke="#000" stroke-width="0.8"/>
<rect x="458.79" y="296.2" width="9.85" height="5.6" fill="#fff" stroke="#000" stroke-width="0.8"/>
<rect x="468.64" y="301.8" width="15.02" height="5.6" fill="#fff" stroke="#000" stroke-width="0.8"/>
<rect x="468.64" y="307.4" width="7.75" height="5.6" fill="#fff" stroke="#000" stroke-width="0.8"/>
<rect x="468.64" y="313" width="28.91" height="5.6" fill="#b0b0b0" stroke="#000" stroke-width="0.8"/>
<rect x="468.64" y="318.6" width="13.57" height="5.6" fill="#fff" stroke="#000" stroke-width="0.8"/>
<rect x="468.64" y="324.2" width="12.11" height="5.6" fill="#b0b0b0" stroke="#000" stroke-width="0.8"/>
<rect x="468.64" y="329.8" width="6.14" height="5.6" fill="#b0b0b0" stroke="#000" stroke-width="0.8"/>
<rect x="468.64" y="335.4" width="6.62" height="5.6" fill="#b0b0b0" stroke="#000" stroke-width="0.8"/>
<rect x="468.64" y="341" width="16.96" height="5.6" fill="#fff" stroke="#000" stroke-width="0.8"/>
<rect x="468.64" y="346.6" width="28.75" height="5.6" fill="#b0b0b0" stroke="#000" stroke-width="0.8"/>
<rect x="468.64" y="352.2" width="10.66" height="5.6" fill="#fff" stroke="#000" stroke-width="0.8"/>
<rect x="468.64" y="357.8" width="10.66" height="5.6" fill="#b0b0b0" stroke="#000" stroke-width="0.8"/>
<rect x="459.6" y="363.4" width="9.04" height="5.6" fill="#fff" stroke="#000" stroke-width="0.8"/>
<rect x="422.29" y="369" width="46.35" height="5.6" fill="#b0b0b0" stroke="#000" stroke-width="0.8"/>
<line x1="468.64" x2="468.64" y1="260.4" y2="379.7" stroke="#000" stroke-width="1.0"/>
<text class="l" x="355.7" y="274.4">(k)</text>
</g>
<g>
<rect x="510.9" y="260.4" width="159.5" height="119.3" fill="#fff"/>
<path d="M510.9 260.4V379.7M670.4 260.4V379.7" stroke="#b0b0b0" stroke-width="1" fill="none"/>
<path d="M510.4 260.4H670.9M510.4 379.7H670.9" stroke="#808080" stroke-width="0.7" fill="none"/>
<rect x="532.83" y="268.6" width="97.87" height="5.2" fill="#b0b0b0" stroke="#000" stroke-width="0.8"/>
<rect x="608.74" y="273.8" width="21.96" height="5.6" fill="#b0b0b0" stroke="#000" stroke-width="0.8"/>
<rect x="613.58" y="279.4" width="17.12" height="5.6" fill="#b0b0b0" stroke="#000" stroke-width="0.8"/>
<rect x="626.5" y="285" width="4.2" height="5.6" fill="#fff" stroke="#000" stroke-width="0.8"/>
<rect x="596.14" y="290.6" width="34.56" height="5.6" fill="#fff" stroke="#000" stroke-width="0.8"/>
<rect x="610.67" y="296.2" width="20.03" height="5.6" fill="#fff" stroke="#000" stroke-width="0.8"/>
<rect x="630.7" y="301.8" width="0.32" height="5.6" fill="#fff" stroke="#000" stroke-width="0.8"/>
<rect x="586.77" y="307.4" width="43.93" height="5.6" fill="#b0b0b0" stroke="#000" stroke-width="0.8"/>
<rect x="620.04" y="313" width="10.66" height="5.6" fill="#fff" stroke="#000" stroke-width="0.8"/>
<rect x="628.92" y="318.6" width="1.78" height="5.6" fill="#fff" stroke="#000" stroke-width="0.8"/>
<rect x="630.7" y="324.2" width="3.71" height="5.6" fill="#fff" stroke="#000" stroke-width="0.8"/>
<rect x="617.62" y="329.8" width="13.08" height="5.6" fill="#b0b0b0" stroke="#000" stroke-width="0.8"/>
<rect x="628.92" y="335.4" width="1.78" height="5.6" fill="#fff" stroke="#000" stroke-width="0.8"/>
<rect x="630.7" y="341" width="6.78" height="5.6" fill="#fff" stroke="#000" stroke-width="0.8"/>
<rect x="630.7" y="346.6" width="20.83" height="5.6" fill="#fff" stroke="#000" stroke-width="0.8"/>
<rect x="611.32" y="357.8" width="19.38" height="5.6" fill="#b0b0b0" stroke="#000" stroke-width="0.8"/>
<rect x="597.75" y="363.4" width="32.95" height="5.6" fill="#b0b0b0" stroke="#000" stroke-width="0.8"/>
<rect x="541.71" y="369" width="88.99" height="5.6" fill="#b0b0b0" stroke="#000" stroke-width="0.8"/>
<line x1="630.7" x2="630.7" y1="260.4" y2="379.7" stroke="#000" stroke-width="1.0"/>
<text class="l" x="517.7" y="274.4">(l)</text>
</g>
<line x1="21.3" x2="24.7" y1="271" y2="271" stroke="#111" stroke-width="1"/>
<text class="t yt" x="19.1" y="273.4">1</text>
<line x1="21.3" x2="24.7" y1="276.6" y2="276.6" stroke="#111" stroke-width="1"/>
<text class="t yt" x="19.1" y="279">2</text>
<line x1="21.3" x2="24.7" y1="282.2" y2="282.2" stroke="#111" stroke-width="1"/>
<text class="t yt" x="19.1" y="284.6">3</text>
<line x1="21.3" x2="24.7" y1="287.8" y2="287.8" stroke="#111" stroke-width="1"/>
<text class="t yt" x="19.1" y="290.2">4</text>
<line x1="21.3" x2="24.7" y1="293.4" y2="293.4" stroke="#111" stroke-width="1"/>
<text class="t yt" x="19.1" y="295.8">5</text>
<line x1="21.3" x2="24.7" y1="299" y2="299" stroke="#111" stroke-width="1"/>
<text class="t yt" x="19.1" y="301.4">6</text>
<line x1="21.3" x2="24.7" y1="304.6" y2="304.6" stroke="#111" stroke-width="1"/>
<text class="t yt" x="19.1" y="307">7</text>
<line x1="21.3" x2="24.7" y1="310.2" y2="310.2" stroke="#111" stroke-width="1"/>
<text class="t yt" x="19.1" y="312.6">8</text>
<line x1="21.3" x2="24.7" y1="315.8" y2="315.8" stroke="#111" stroke-width="1"/>
<text class="t yt" x="19.1" y="318.2">9</text>
<line x1="21.3" x2="24.7" y1="321.4" y2="321.4" stroke="#111" stroke-width="1"/>
<text class="t yt" x="19.1" y="323.8">10</text>
<line x1="21.3" x2="24.7" y1="327" y2="327" stroke="#111" stroke-width="1"/>
<text class="t yt" x="19.1" y="329.4">11</text>
<line x1="21.3" x2="24.7" y1="332.6" y2="332.6" stroke="#111" stroke-width="1"/>
<text class="t yt" x="19.1" y="335">12</text>
<line x1="21.3" x2="24.7" y1="338.2" y2="338.2" stroke="#111" stroke-width="1"/>
<text class="t yt" x="19.1" y="340.6">13</text>
<line x1="21.3" x2="24.7" y1="343.8" y2="343.8" stroke="#111" stroke-width="1"/>
<text class="t yt" x="19.1" y="346.2">14</text>
<line x1="21.3" x2="24.7" y1="349.4" y2="349.4" stroke="#111" stroke-width="1"/>
<text class="t yt" x="19.1" y="351.8">15</text>
<line x1="21.3" x2="24.7" y1="355" y2="355" stroke="#111" stroke-width="1"/>
<text class="t yt" x="19.1" y="357.4">16</text>
<line x1="21.3" x2="24.7" y1="360.6" y2="360.6" stroke="#111" stroke-width="1"/>
<text class="t yt" x="19.1" y="363">17</text>
<line x1="21.3" x2="24.7" y1="366.2" y2="366.2" stroke="#111" stroke-width="1"/>
<text class="t yt" x="19.1" y="368.6">18</text>
<line x1="21.3" x2="24.7" y1="371.8" y2="371.8" stroke="#111" stroke-width="1"/>
<text class="t yt" x="19.1" y="374.2">19</text>
<rect x="24.2" y="1.3" width="159.8" height="13" fill="#bfbfbf" stroke="#757575" stroke-width="0.6"/>
<text class="h" x="104.1" y="12.1">GDD</text>
<rect x="186.9" y="1.3" width="159.1" height="13" fill="#bfbfbf" stroke="#757575" stroke-width="0.6"/>
<text class="h" x="266.45" y="12.1">Exponential</text>
<rect x="348.9" y="1.3" width="159.1" height="13" fill="#bfbfbf" stroke="#757575" stroke-width="0.6"/>
<text class="h" x="428.45" y="12.1">Bilinear</text>
<rect x="510.9" y="1.3" width="159.5" height="13" fill="#bfbfbf" stroke="#757575" stroke-width="0.6"/>
<text class="h" x="590.65" y="12.1">Beta</text>
<rect x="670.6" y="14.3" width="12.6" height="120.1" fill="#bfbfbf" stroke="#757575" stroke-width="0.6"/>
<text class="s" transform="translate(672.2,74.35) rotate(90)"><tspan class="tri" dy="-0.5">△</tspan><tspan dy="0.5">GST≤ 1°C</tspan></text>
<rect x="670.6" y="137.3" width="12.6" height="120.15" fill="#bfbfbf" stroke="#757575" stroke-width="0.6"/>
<text class="s" transform="translate(672.2,197.38) rotate(90)"><tspan class="tri" dy="-0.5">△</tspan><tspan dy="0.5">GST≤ 2°C</tspan></text>
<rect x="670.6" y="260.4" width="12.6" height="119.3" fill="#bfbfbf" stroke="#757575" stroke-width="0.6"/>
<text class="s" transform="translate(672.2,320.05) rotate(90)"><tspan class="tri" dy="-0.5">△</tspan><tspan dy="0.5">GST≤ 3°C</tspan></text>
<line x1="31.49" x2="31.49" y1="379.9" y2="382.7" stroke="#111" stroke-width="1"/>
<text class="t xt" x="31.49" y="390.6">-35</text>
<line x1="47.64" x2="47.64" y1="379.9" y2="382.7" stroke="#111" stroke-width="1"/>
<text class="t xt" x="47.64" y="390.6">-30</text>
<line x1="63.79" x2="63.79" y1="379.9" y2="382.7" stroke="#111" stroke-width="1"/>
<text class="t xt" x="63.79" y="390.6">-25</text>
<line x1="79.94" x2="79.94" y1="379.9" y2="382.7" stroke="#111" stroke-width="1"/>
<text class="t xt" x="79.94" y="390.6">-20</text>
<line x1="96.09" x2="96.09" y1="379.9" y2="382.7" stroke="#111" stroke-width="1"/>
<text class="t xt" x="96.09" y="390.6">-15</text>
<line x1="112.24" x2="112.24" y1="379.9" y2="382.7" stroke="#111" stroke-width="1"/>
<text class="t xt" x="112.24" y="390.6">-10</text>
<line x1="128.39" x2="128.39" y1="379.9" y2="382.7" stroke="#111" stroke-width="1"/>
<text class="t xt" x="128.39" y="390.6">-5</text>
<line x1="144.54" x2="144.54" y1="379.9" y2="382.7" stroke="#111" stroke-width="1"/>
<text class="t xt" x="144.54" y="390.6">0</text>
<line x1="160.69" x2="160.69" y1="379.9" y2="382.7" stroke="#111" stroke-width="1"/>
<text class="t xt" x="160.69" y="390.6">5</text>
<line x1="176.84" x2="176.84" y1="379.9" y2="382.7" stroke="#111" stroke-width="1"/>
<text class="t xt" x="176.84" y="390.6">10</text>
<line x1="193.53" x2="193.53" y1="379.9" y2="382.7" stroke="#111" stroke-width="1"/>
<text class="t xt" x="193.53" y="390.6">-35</text>
<line x1="209.68" x2="209.68" y1="379.9" y2="382.7" stroke="#111" stroke-width="1"/>
<text class="t xt" x="209.68" y="390.6">-30</text>
<line x1="225.83" x2="225.83" y1="379.9" y2="382.7" stroke="#111" stroke-width="1"/>
<text class="t xt" x="225.83" y="390.6">-25</text>
<line x1="241.98" x2="241.98" y1="379.9" y2="382.7" stroke="#111" stroke-width="1"/>
<text class="t xt" x="241.98" y="390.6">-20</text>
<line x1="258.13" x2="258.13" y1="379.9" y2="382.7" stroke="#111" stroke-width="1"/>
<text class="t xt" x="258.13" y="390.6">-15</text>
<line x1="274.28" x2="274.28" y1="379.9" y2="382.7" stroke="#111" stroke-width="1"/>
<text class="t xt" x="274.28" y="390.6">-10</text>
<line x1="290.43" x2="290.43" y1="379.9" y2="382.7" stroke="#111" stroke-width="1"/>
<text class="t xt" x="290.43" y="390.6">-5</text>
<line x1="306.58" x2="306.58" y1="379.9" y2="382.7" stroke="#111" stroke-width="1"/>
<text class="t xt" x="306.58" y="390.6">0</text>
<line x1="322.73" x2="322.73" y1="379.9" y2="382.7" stroke="#111" stroke-width="1"/>
<text class="t xt" x="322.73" y="390.6">5</text>
<line x1="338.88" x2="338.88" y1="379.9" y2="382.7" stroke="#111" stroke-width="1"/>
<text class="t xt" x="338.88" y="390.6">10</text>
<line x1="355.59" x2="355.59" y1="379.9" y2="382.7" stroke="#111" stroke-width="1"/>
<text class="t xt" x="355.59" y="390.6">-35</text>
<line x1="371.74" x2="371.74" y1="379.9" y2="382.7" stroke="#111" stroke-width="1"/>
<text class="t xt" x="371.74" y="390.6">-30</text>
<line x1="387.89" x2="387.89" y1="379.9" y2="382.7" stroke="#111" stroke-width="1"/>
<text class="t xt" x="387.89" y="390.6">-25</text>
<line x1="404.04" x2="404.04" y1="379.9" y2="382.7" stroke="#111" stroke-width="1"/>
<text class="t xt" x="404.04" y="390.6">-20</text>
<line x1="420.19" x2="420.19" y1="379.9" y2="382.7" stroke="#111" stroke-width="1"/>
<text class="t xt" x="420.19" y="390.6">-15</text>
<line x1="436.34" x2="436.34" y1="379.9" y2="382.7" stroke="#111" stroke-width="1"/>
<text class="t xt" x="436.34" y="390.6">-10</text>
<line x1="452.49" x2="452.49" y1="379.9" y2="382.7" stroke="#111" stroke-width="1"/>
<text class="t xt" x="452.49" y="390.6">-5</text>
<line x1="468.64" x2="468.64" y1="379.9" y2="382.7" stroke="#111" stroke-width="1"/>
<text class="t xt" x="468.64" y="390.6">0</text>
<line x1="484.79" x2="484.79" y1="379.9" y2="382.7" stroke="#111" stroke-width="1"/>
<text class="t xt" x="484.79" y="390.6">5</text>
<line x1="500.94" x2="500.94" y1="379.9" y2="382.7" stroke="#111" stroke-width="1"/>
<text class="t xt" x="500.94" y="390.6">10</text>
<line x1="517.65" x2="517.65" y1="379.9" y2="382.7" stroke="#111" stroke-width="1"/>
<text class="t xt" x="517.65" y="390.6">-35</text>
<line x1="533.8" x2="533.8" y1="379.9" y2="382.7" stroke="#111" stroke-width="1"/>
<text class="t xt" x="533.8" y="390.6">-30</text>
<line x1="549.95" x2="549.95" y1="379.9" y2="382.7" stroke="#111" stroke-width="1"/>
<text class="t xt" x="549.95" y="390.6">-25</text>
<line x1="566.1" x2="566.1" y1="379.9" y2="382.7" stroke="#111" stroke-width="1"/>
<text class="t xt" x="566.1" y="390.6">-20</text>
<line x1="582.25" x2="582.25" y1="379.9" y2="382.7" stroke="#111" stroke-width="1"/>
<text class="t xt" x="582.25" y="390.6">-15</text>
<line x1="598.4" x2="598.4" y1="379.9" y2="382.7" stroke="#111" stroke-width="1"/>
<text class="t xt" x="598.4" y="390.6">-10</text>
<line x1="614.55" x2="614.55" y1="379.9" y2="382.7" stroke="#111" stroke-width="1"/>
<text class="t xt" x="614.55" y="390.6">-5</text>
<line x1="630.7" x2="630.7" y1="379.9" y2="382.7" stroke="#111" stroke-width="1"/>
<text class="t xt" x="630.7" y="390.6">0</text>
<line x1="646.85" x2="646.85" y1="379.9" y2="382.7" stroke="#111" stroke-width="1"/>
<text class="t xt" x="646.85" y="390.6">5</text>
<line x1="663" x2="663" y1="379.9" y2="382.7" stroke="#111" stroke-width="1"/>
<text class="t xt" x="663" y="390.6">10</text>
<text class="ax" x="347.3" y="405">Changes in yield bias with GST increase (% <tspan font-size="8" dy="-5">o</tspan><tspan dy="5">C</tspan><tspan font-size="8" dy="-5.5">−1</tspan><tspan dy="5.5">)</tspan></text>
<text class="ax" transform="translate(9.3,197.3) rotate(-90)">Cultivar ID number</text>
</svg></body></html>
